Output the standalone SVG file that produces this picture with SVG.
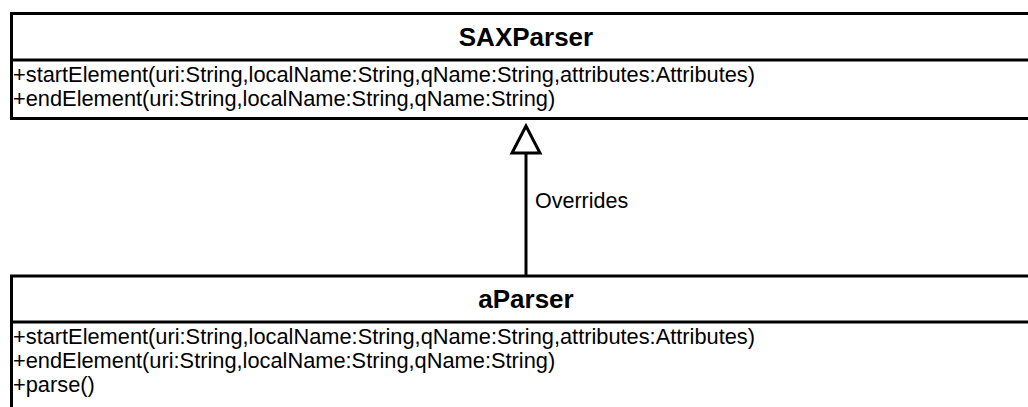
<svg xmlns="http://www.w3.org/2000/svg" width="1028" height="407" viewBox="0 0 1028 407">
<style>
.box{fill:#fff;stroke:#000;stroke-width:3}
.div{stroke:#000;stroke-width:3}
.title{font-family:"Liberation Sans",Arial,sans-serif;font-size:26px;font-weight:bold;text-anchor:middle;fill:#000}
.m{font-family:"Liberation Sans",Arial,sans-serif;font-size:21.8px;fill:#000}
.lbl{font-family:"Liberation Sans",Arial,sans-serif;font-size:21.5px;fill:#000}
.conn{stroke:#000;stroke-width:3;fill:none}
.head{fill:#fff;stroke:#000;stroke-width:3;stroke-linejoin:miter}
</style>
<rect width="1028" height="407" fill="#fff"/>
<g id="SAXParser">
<rect class="box" x="11.5" y="13.5" width="1030" height="105"/>
<line class="div" x1="11.5" y1="60" x2="1042" y2="60"/>
<text class="title" x="526" y="46">SAXParser</text>
<text class="m" x="13" y="82">+startElement(uri:String,localName:String,qName:String,attributes:Attributes)</text>
<text class="m" x="13" y="106">+endElement(uri:String,localName:String,qName:String)</text>
</g>
<g id="aParser">
<rect class="box" x="11.5" y="276" width="1030" height="150"/>
<line class="div" x1="11.5" y1="322" x2="1042" y2="322"/>
<text class="title" x="526" y="308">aParser</text>
<text class="m" x="13" y="344">+startElement(uri:String,localName:String,qName:String,attributes:Attributes)</text>
<text class="m" x="13" y="368">+endElement(uri:String,localName:String,qName:String)</text>
<text class="m" x="13" y="392">+parse()</text>
</g>
<g id="connectors">
<line class="conn" x1="526" y1="276" x2="526" y2="153"/>
<polygon class="head" points="526,126 512,153 540,153"/>
<text class="lbl" x="535" y="208">Overrides</text>
</g>
</svg>
